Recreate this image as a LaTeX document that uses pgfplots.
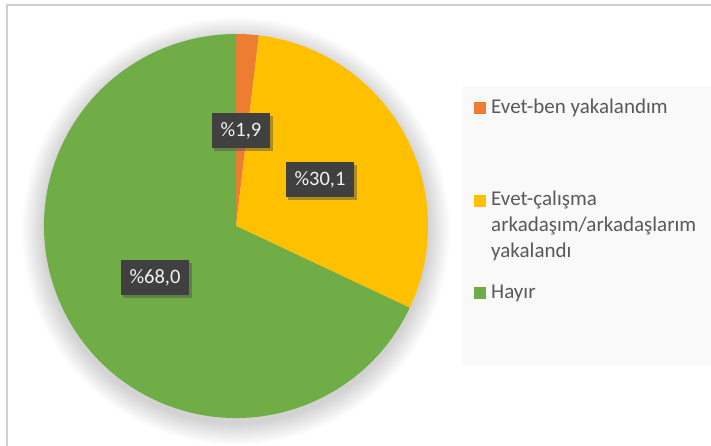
\documentclass[border=0pt]{standalone}
\usepackage{fontspec}
\setmainfont{Carlito}
\usepackage{pgfplots}
\pgfplotsset{compat=1.18}
\usetikzlibrary{shadows}
\definecolor{cOr}{HTML}{ED7D31}
\definecolor{cYe}{HTML}{FFC000}
\definecolor{cGr}{HTML}{70AD47}
\definecolor{legbg}{HTML}{F9F9F9}
\definecolor{txtg}{HTML}{595959}
\definecolor{lab}{HTML}{404040}
\definecolor{frame}{HTML}{D0D0D0}
\begin{document}
\begin{tikzpicture}
% data (percent)
\def\vA{1.9}\def\vB{30.1}\def\vC{68.0}
\pgfmathsetmacro{\aA}{90-3.6*\vA}
\pgfmathsetmacro{\aB}{\aA-3.6*\vB}
% soft shadow of pie
\foreach \r in {193,...,214} {
  \fill[black, opacity=0.008] (236pt,215pt) circle[radius=\r pt];
}
\begin{axis}[scale only axis, width=711pt, height=446pt,
  xmin=0, xmax=711, ymin=0, ymax=446, hide axis, clip=false]
\draw[frame, line width=1.5pt] (axis cs:7,0) -- (axis cs:7,441) -- (axis cs:711,441);
\fill[cOr] (axis cs:236,220) -- ++(90:192pt) arc[start angle=90, delta angle=-3.6*\vA, radius=192pt] -- cycle;
\fill[cYe] (axis cs:236,220) -- ++(\aB:192pt) arc[start angle=\aB, delta angle=3.6*\vB, radius=192pt] -- cycle;
\fill[cGr] (axis cs:236,220) -- ++(\aB:192pt) arc[start angle=\aB, delta angle=-3.6*\vC, radius=192pt] -- cycle;
% data labels
\tikzset{lbl/.style={fill=lab, text=white!95!black, font=\fontsize{20.5}{24}\selectfont,
  minimum height=35pt, inner xsep=9pt, inner ysep=0pt,
  drop shadow={shadow xshift=2.5pt, shadow yshift=-3pt, opacity=0.45, fill=black!70}}}
\node[lbl] at (axis cs:241,315) {\%1,9};
\node[lbl] at (axis cs:320,266) {\%30,1};
\node[lbl] at (axis cs:155,168) {\%68,0};
% legend
\fill[legbg] (axis cs:462,80) rectangle (axis cs:711,360);
\tikzset{lt/.style={anchor=west, inner sep=0pt, text=txtg, font=\fontsize{21}{26}\selectfont}}
\fill[cOr] (axis cs:474,332) rectangle (axis cs:486,344);
\node[lt] at (axis cs:491,338) {Evet-ben yakalandım};
\fill[cYe] (axis cs:474,239) rectangle (axis cs:486,251);
\node[lt] at (axis cs:491,246) {Evet-çalışma};
\node[lt] at (axis cs:491,220) {arkadaşım/arkadaşlarım};
\node[lt] at (axis cs:491,194) {yakalandı};
\fill[cGr] (axis cs:474,147) rectangle (axis cs:486,159);
\node[lt] at (axis cs:491,153) {Hayır};
\end{axis}
\pgfresetboundingbox
\path (0,0) rectangle (711pt,446pt);
\end{tikzpicture}
\end{document}
